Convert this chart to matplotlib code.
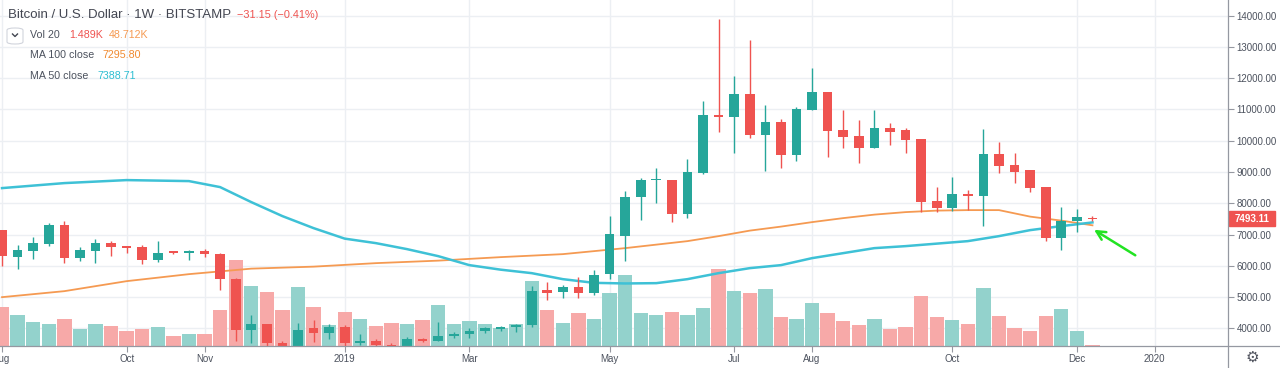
import matplotlib.pyplot as plt
from matplotlib.patches import FancyBboxPatch, Rectangle
from matplotlib.lines import Line2D

# weekly candles, week 0 = 6 Aug 2018 ... week 70 = 9 Dec 2019
opens = [7142, 6290, 6480, 6694, 7302, 6236, 6480, 6735, 6630, 6588,
         6182, 6460, 6416, 6460, 6374, 5564, 3942, 4134, 3516, 3240,
         3996, 3836, 4049, 3520, 3580, 3480, 3420, 3660, 3600, 3750,
         3814, 3900, 3964, 4028, 4100, 5222, 5150, 5310, 5136, 5725,
         6950, 8188, 8740, 8742, 7644, 8975, 10822, 10768, 11484, 10182,
         10608, 9532, 10982, 11548, 10342, 10150, 9776, 10396, 10342, 10044,
         8070, 7856, 8284, 8240, 9574, 9222, 9062, 8508, 6896, 7430,
         7524.26]
highs = [7160, 6662, 6928, 7357, 7440, 6608, 6844, 6800, 6640, 6652,
         6790, 6470, 6502, 6550, 6395, 5600, 4422, 4150, 3600, 4176,
         4262, 4134, 4100, 3805, 3650, 3530, 3730, 3700, 4210, 3870,
         4000, 4036, 4060, 4134, 5350, 5490, 5400, 5630, 5862, 7590,
         8390, 8796, 9116, 8760, 9404, 11270, 13894, 12070, 13222, 11130,
         10684, 11088, 12336, 11560, 10982, 10662, 10982, 10556, 10396, 10044,
         8528, 8828, 8422, 10364, 9968, 9596, 9062, 8508, 7888, 7804,
         7580]
lows = [5990, 5885, 6204, 6630, 6076, 6160, 6096, 6310, 6395, 6054,
        6128, 6380, 6182, 6290, 5222, 3600, 3526, 3400, 3150, 3180,
        3566, 3644, 3450, 3480, 3400, 3380, 3400, 3550, 3600, 3680,
        3700, 3836, 3920, 3878, 4050, 4900, 4960, 4956, 5062, 5565,
        6160, 7462, 7996, 7406, 7516, 8934, 10288, 9616, 10076, 9040,
        9116, 9360, 10980, 9488, 9756, 9296, 9756, 9862, 9596, 7728,
        7728, 7750, 7782, 7280, 8956, 8656, 8368, 6790, 6502, 7088,
        7440]
closes = [6310, 6502, 6735, 7302, 6236, 6502, 6735, 6588, 6566, 6182,
          6416, 6395, 6460, 6374, 5564, 3942, 4134, 3516, 3240, 3942,
          3836, 4049, 3520, 3580, 3480, 3420, 3660, 3600, 3750, 3814,
          3900, 3996, 4028, 4100, 5190, 5136, 5310, 5136, 5702, 7014,
          8188, 8742, 8770, 7644, 8988, 10822, 10748, 11484, 10182, 10608,
          9532, 11004, 11548, 10320, 10128, 9776, 10416, 10288, 10022, 8048,
          7856, 8284, 8230, 9574, 9190, 9008, 8476, 6896, 7440, 7550,
          7493.11]
# volume in thousands of BTC
volumes = [68, 54, 42, 39, 48, 30, 38, 35, 26, 29,
           33, 17, 21, 21, 63, 150, 105, 94, 63, 103,
           69, 37, 60, 47, 35, 41, 39, 45, 72, 39,
           44, 38, 32, 38, 114, 63, 41, 58, 47, 93,
           125, 57, 55, 60, 55, 67, 134, 97, 93, 99,
           51, 48, 76, 57, 44, 37, 48, 29, 33, 88,
           50, 46, 38, 102, 53, 32, 26, 53, 64, 27,
           1.489]

ma_weeks = [0, 4, 8, 12, 14, 16, 18, 20, 22, 24, 26, 28, 30, 32, 34, 36, 38,
            40, 42, 44, 46, 48, 50, 52, 54, 56, 58, 60, 62, 64, 66, 68, 70]
ma50 = [8486, 8646, 8742, 8710, 8518, 8038, 7590, 7206, 6870, 6726, 6534,
        6310, 6022, 5878, 5766, 5574, 5456, 5436, 5446, 5574, 5766, 5926,
        6022, 6246, 6406, 6566, 6630, 6710, 6790, 6950, 7142, 7270, 7388.71]
ma100_weeks = [0, 4, 8, 12, 16, 20, 24, 28, 32, 36, 40, 42, 44, 46, 48, 50,
               52, 54, 56, 58, 60, 62, 64, 66, 68, 70]
ma100 = [4998, 5190, 5510, 5734, 5910, 5974, 6086, 6166, 6278, 6374, 6566,
         6678, 6790, 6950, 7126, 7254, 7398, 7526, 7638, 7718, 7766, 7782,
         7782, 7574, 7446, 7295.80]

tick_weeks = [0, 8, 13, 22, 30, 39, 47, 52, 61, 69, 74]
tick_labels = ['Aug', 'Oct', 'Nov', '2019', 'Mar', 'May', 'Jul', 'Aug', 'Oct', 'Dec', '2020']
price_ticks = [4000, 5000, 6000, 7000, 8000, 9000, 10000, 11000, 12000, 13000, 14000]

GREEN = '#26a69a'
RED = '#ef5350'
GRID = '#eceff3'
TXT = '#4c525e'

plt.rcParams['font.family'] = ['Liberation Sans', 'DejaVu Sans']

W, H = 1280, 368
fig = plt.figure(figsize=(W / 100, H / 100), dpi=100)
ax = fig.add_axes([0, 22 / H, 1228 / W, 346 / H])
ax.set_xlim(-0.13, 78.7)
ax.set_ylim(3436, 14502)
for s in ax.spines.values():
    s.set_visible(False)

for p in price_ticks:
    ax.axhline(p, color=GRID, lw=1, zorder=0)
for w in tick_weeks:
    ax.axvline(w, color=GRID, lw=1, zorder=0)

weeks = list(range(len(opens)))
cols = [GREEN if c >= o else RED for o, c in zip(opens, closes)]
vcols = ['#93d2cc' if c == GREEN else '#f7a9a8' for c in cols]

# volume pane in the lower part of the chart
vol_scale = 605.0
ax.bar(weeks, [v / vol_scale for v in volumes], width=0.92, color=vcols,
       transform=ax.get_xaxis_transform(), zorder=1)

ax.plot(ma100_weeks, ma100, color='#f59a52', lw=1.3, zorder=2)
ax.plot(ma_weeks, ma50, color='#3ec1d6', lw=1.8, zorder=2)

ax.vlines(weeks, lows, highs, colors=cols, lw=1, zorder=3)
bh = [max(abs(c - o), 30) for o, c in zip(opens, closes)]
bb = [min(o, c) for o, c in zip(opens, closes)]
ax.bar(weeks, bh, bottom=bb, width=0.62, color=cols, zorder=4)

# arrow pointing at the MA cross
ax.annotate('', xy=(69.95, 7200), xytext=(72.9, 6290),
            arrowprops=dict(arrowstyle='->', color='#22e322', lw=1.8,
                            mutation_scale=16), zorder=5)

ax.set_xticks(tick_weeks)
ax.set_xticklabels(tick_labels)
ax.set_yticks(price_ticks)
ax.set_yticklabels(['%.2f' % p for p in price_ticks])
ax.yaxis.set_ticks_position('right')
ax.tick_params(axis='y', length=4, width=0.8, color='#9598a1', pad=2,
               labelsize=7, labelcolor=TXT)
ax.tick_params(axis='x', length=4, width=0.8, color='#9598a1', pad=2,
               labelsize=7, labelcolor=TXT)

# frame lines of the price and time scales
fig.add_artist(Line2D([0, 1], [22 / H, 22 / H], color='#9598a1', lw=0.9))
fig.add_artist(Line2D([1228 / W, 1228 / W], [0, 1], color='#9598a1', lw=0.9))

# last price label
fig.add_artist(Rectangle((1229 / W, (H - 226) / H), 46 / W, 15 / H,
                         color=RED, transform=fig.transFigure))
fig.text(1252 / W, (H - 218.5) / H, '7493.11', color='white', fontsize=7,
         fontweight='bold', ha='center', va='center')
fig.text(1252 / W, (H - 357) / H, '\u2699', color='#50535e', fontsize=11,
         ha='center', va='center', family='DejaVu Sans')


def label(x, y, s, c, size=7.7):
    fig.text(x / W, (H - y) / H, s, color=c, fontsize=size, ha='left', va='center')


label(8, 15, 'Bitcoin / U.S. Dollar \u00b7 1W \u00b7 BITSTAMP', '#434651', 9.5)
label(237, 15, '\u221231.15 (\u22120.41%)', RED, 7.8)
fig.add_artist(FancyBboxPatch((7 / W, (H - 44) / H), 16 / W, 16 / H,
                              boxstyle='round,pad=0,rounding_size=0.006',
                              fc='white', ec='#d1d4dc', lw=0.8,
                              transform=fig.transFigure))
fig.add_artist(Line2D([12.5 / W, 15 / W, 17.5 / W],
                      [(H - 34) / H, (H - 36.5) / H, (H - 34) / H],
                      color='#434651', lw=1))
label(30, 35, 'Vol 20', TXT)
label(69, 35, '1.489K', RED)
label(109, 35, '48.712K', '#f59a52')
label(30, 55, 'MA 100 close', TXT)
label(102, 55, '7295.80', '#f08a30')
label(30, 76, 'MA 50 close', TXT)
label(97, 76, '7388.71', '#2fbfd2')

fig.savefig('out.png', dpi=100)
